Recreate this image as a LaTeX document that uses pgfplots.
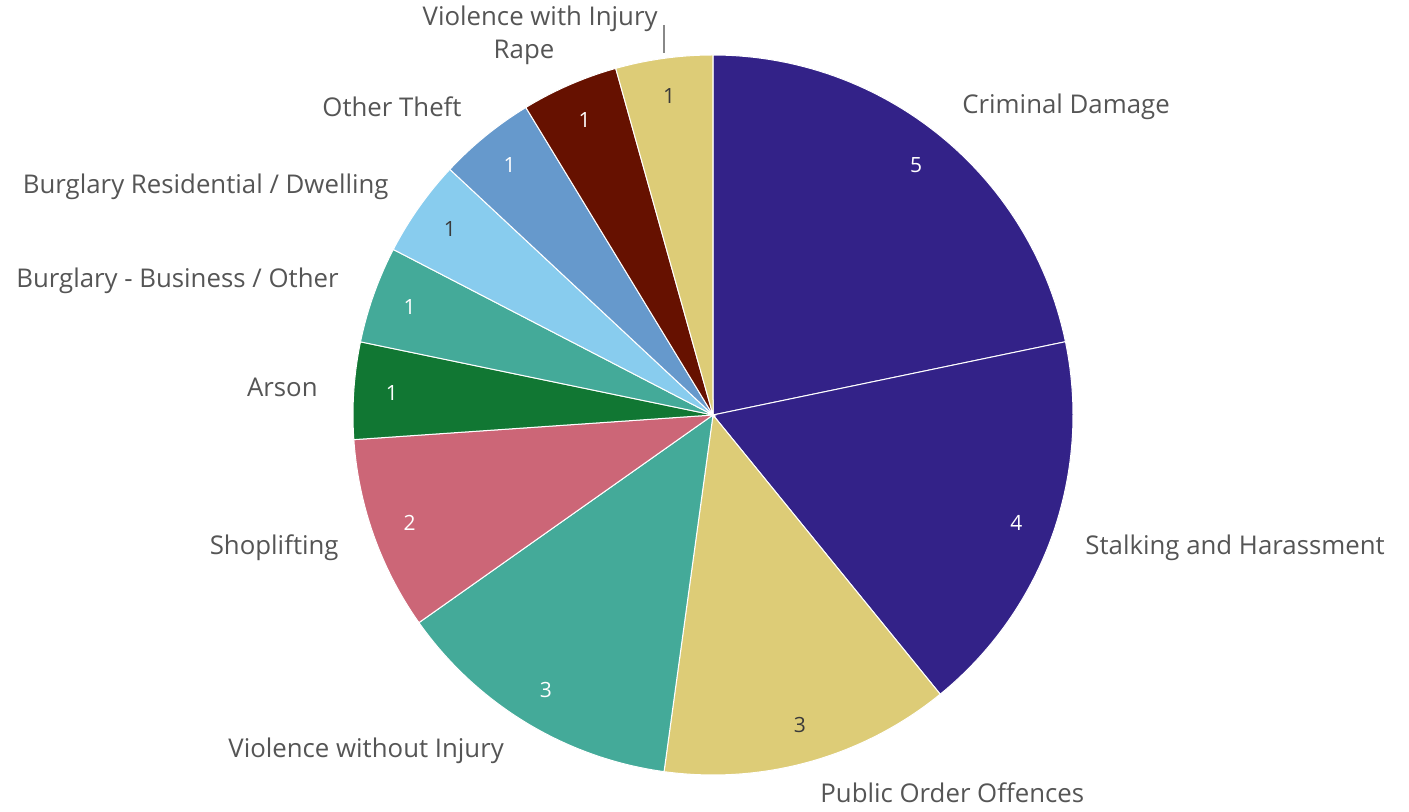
\documentclass[border=0pt]{standalone}
\usepackage{pgfplots}
\pgfplotsset{compat=1.18}
\usepackage{fontspec}
\setmainfont{Open Sans}
\definecolor{cPurple}{HTML}{332288}
\definecolor{cSand}{HTML}{DDCC77}
\definecolor{cTeal}{HTML}{44AA99}
\definecolor{cRose}{HTML}{CC6677}
\definecolor{cGreen}{HTML}{117733}
\definecolor{cCyan}{HTML}{88CCEE}
\definecolor{cBlue}{HTML}{6699CC}
\definecolor{cWine}{HTML}{661100}
\definecolor{txt}{HTML}{555555}
\definecolor{numdark}{HTML}{3A3A3A}
\newcommand\total{23}
\newcommand\cum{90}
% #1 value, #2 fill colour, #3 number colour
\newcommand\slice[3]{%
  \pgfmathsetmacro\sa{\cum}%
  \pgfmathsetmacro\sb{\cum-#1/\total*360}%
  \pgfmathsetmacro\sm{(\sa+\sb)/2}%
  \pgfmathsetmacro\lx{713+322*cos(\sm)}%
  \pgfmathsetmacro\ly{397+322*sin(\sm)}%
  \edef\temp{\noexpand\addplot[fill=#2, draw=white, line width=0.5pt, domain=\sb:\sa, samples=60]
    ({713+360*cos(x)},{397+360*sin(x)}) -- (axis cs:713,397) -- cycle;
    \noexpand\node[text=#3, font=\noexpand\fontsize{10.5}{11}\noexpand\selectfont] at (axis cs:\lx,\ly) {#1};}%
  \temp
  \xdef\cum{\sb}%
}
\begin{document}
\begin{tikzpicture}
\begin{axis}[
  x=0.5pt, y=0.5pt,
  xmin=0, xmax=1409, ymin=0, ymax=812,
  hide axis, clip=false,
]
\slice{5}{cPurple}{white}
\slice{4}{cPurple}{white}
\slice{3}{cSand}{numdark}
\slice{3}{cTeal}{white}
\slice{2}{cRose}{white}
\slice{1}{cGreen}{white}
\slice{1}{cTeal}{white}
\slice{1}{cCyan}{numdark}
\slice{1}{cBlue}{white}
\slice{1}{cWine}{white}
\slice{1}{cSand}{numdark}
\tikzset{lbl/.style={text=txt, font=\fontsize{12.9}{14}\selectfont, inner sep=0pt}}
\node[lbl, anchor=west] at (axis cs:962,705) {Criminal Damage};
\node[lbl, anchor=west] at (axis cs:1085,264) {Stalking and Harassment};
\node[lbl, anchor=west] at (axis cs:820,19) {Public Order Offences};
\node[lbl, anchor=west] at (axis cs:228,61) {Violence without Injury};
\node[lbl, anchor=east] at (axis cs:339,264) {Shoplifting};
\node[lbl, anchor=east] at (axis cs:318,425) {Arson};
\node[lbl, anchor=east] at (axis cs:339,531) {Burglary - Business / Other};
\node[lbl, anchor=east] at (axis cs:389,625) {Burglary Residential / Dwelling};
\node[lbl, anchor=east] at (axis cs:462,705) {Other Theft};
\node[lbl] at (axis cs:524,760) {Rape};
\node[lbl, anchor=east] at (axis cs:658,793) {Violence with Injury};
\draw[txt!70, line width=0.6pt] (axis cs:664,787) -- (axis cs:664,759);
\end{axis}
\pgfresetboundingbox
\path (0,0) rectangle (704.5pt,406pt);
\end{tikzpicture}
\end{document}
